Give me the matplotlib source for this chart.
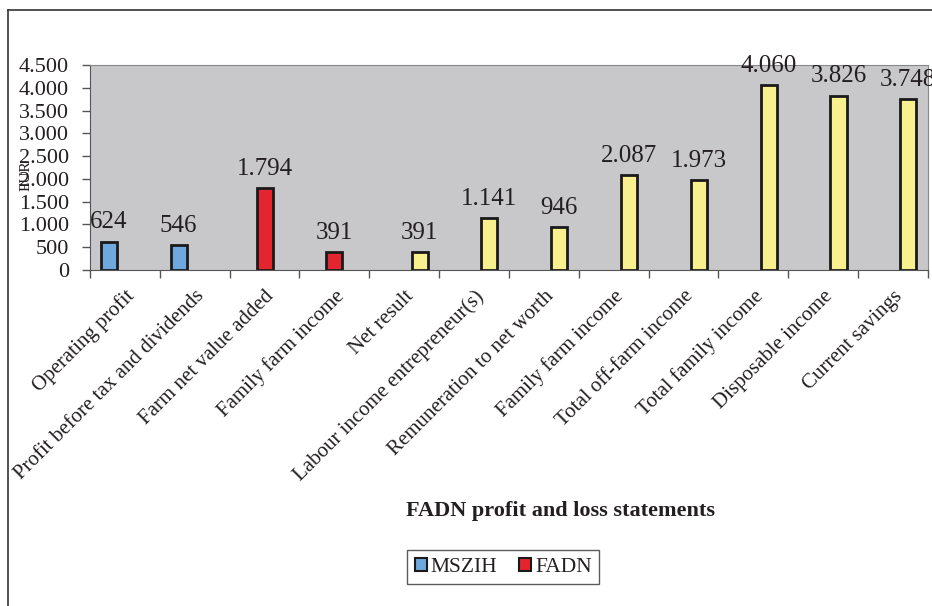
import numpy as np
import matplotlib
matplotlib.use('Agg')
import matplotlib.pyplot as plt
from matplotlib.patches import Patch
from matplotlib.lines import Line2D

plt.rcParams['font.family'] = ['Liberation Serif', 'DejaVu Serif']

categories = ['Operating profit', 'Profit before tax and dividends', 'Farm net value added',
              'Family farm income', 'Net result', 'Labour income entrepreneur(s)',
              'Remuneration to net worth', 'Family farm income', 'Total off-farm income',
              'Total family income', 'Disposable income', 'Current savings']
values = [624, 546, 1794, 391, 391, 1141, 946, 2087, 1973, 4060, 3826, 3748]
series = ['MSZIH', 'MSZIH', 'FADN', 'FADN', 'other', 'other', 'other', 'other',
          'other', 'other', 'other', 'other']
labels = ['624', '546', '1.794', '391', '391', '1.141', '946', '2.087', '1.973',
          '4.060', '3.826', '3.748']

colors = {'MSZIH': '#6FA8DC', 'FADN': '#E2252F', 'other': '#F8F08E'}
offsets = {'MSZIH': -0.23, 'FADN': 0.0, 'other': 0.22}
txt = '#231F20'

fig = plt.figure(figsize=(9.32, 6.06), dpi=100)
ax = fig.add_axes([0.0966, 0.5545, 0.899, 0.3382])
ax.set_facecolor('#C8C8CA')

x = np.arange(len(categories))
for i in range(len(categories)):
    s = series[i]
    xi = x[i] + offsets[s]
    ax.bar(xi, values[i], width=0.23, color=colors[s], edgecolor='#1a1a1a', linewidth=2, zorder=3)
    ax.annotate(labels[i], (xi, values[i]), xytext=(0, 6), textcoords='offset points',
                ha='center', va='bottom', fontsize=18, color=txt, zorder=4,
                annotation_clip=False)

ax.set_xlim(-0.5, len(categories) - 0.5)
ax.set_ylim(0, 4500)
ax.set_yticks(np.arange(0, 4501, 500))
ax.set_yticklabels(['{:,}'.format(v).replace(',', '.') for v in range(0, 4501, 500)],
                   fontsize=16, color=txt)
ax.tick_params(axis='y', pad=9)
ax.set_xticks(np.arange(-0.5, len(categories), 1.0))
ax.set_xticklabels([])
ax.set_xticks(x, minor=True)
ax.set_xticklabels(categories, minor=True, rotation=45, ha='right', rotation_mode='anchor',
                   fontsize=15, color=txt)
ax.tick_params(axis='x', which='minor', length=0, pad=12)
ax.tick_params(axis='both', which='major', length=6, width=1, color='#555555', direction='out')
for sp in ax.spines.values():
    sp.set_color('#888888')
ax.spines['left'].set_color('#555555')
ax.spines['bottom'].set_color('#555555')

fig.text(0.028, 0.71, 'EUR', rotation=90, fontsize=11, color=txt, ha='center', va='center')

fig.text(0.601, 0.157, 'FADN profit and loss statements', fontsize=16, fontweight='bold',
         ha='center', va='center', color=txt)

handles = [Patch(facecolor=colors['MSZIH'], edgecolor='#1a1a1a', linewidth=1.5, label='MSZIH'),
           Patch(facecolor=colors['FADN'], edgecolor='#1a1a1a', linewidth=1.5, label='FADN')]
leg = fig.legend(handles=handles, loc='center', bbox_to_anchor=(0.54, 0.064), ncol=2,
                 fontsize=15.5, frameon=True, fancybox=False, handlelength=0.55, handleheight=0.55,
                 handletextpad=0.2, columnspacing=1.0, borderpad=0.35)
leg.get_frame().set_edgecolor('#333333')
leg.get_frame().set_linewidth(1)
for t in leg.get_texts():
    t.set_color(txt)

# outer chart border (left and top only, rest cropped)
fig.add_artist(Line2D([0.0086, 0.0086], [0, 0.983], color='#333333', linewidth=1.2))
fig.add_artist(Line2D([0.0086, 1.0], [0.983, 0.983], color='#333333', linewidth=1.2))

fig.savefig('out.png', dpi=100)
